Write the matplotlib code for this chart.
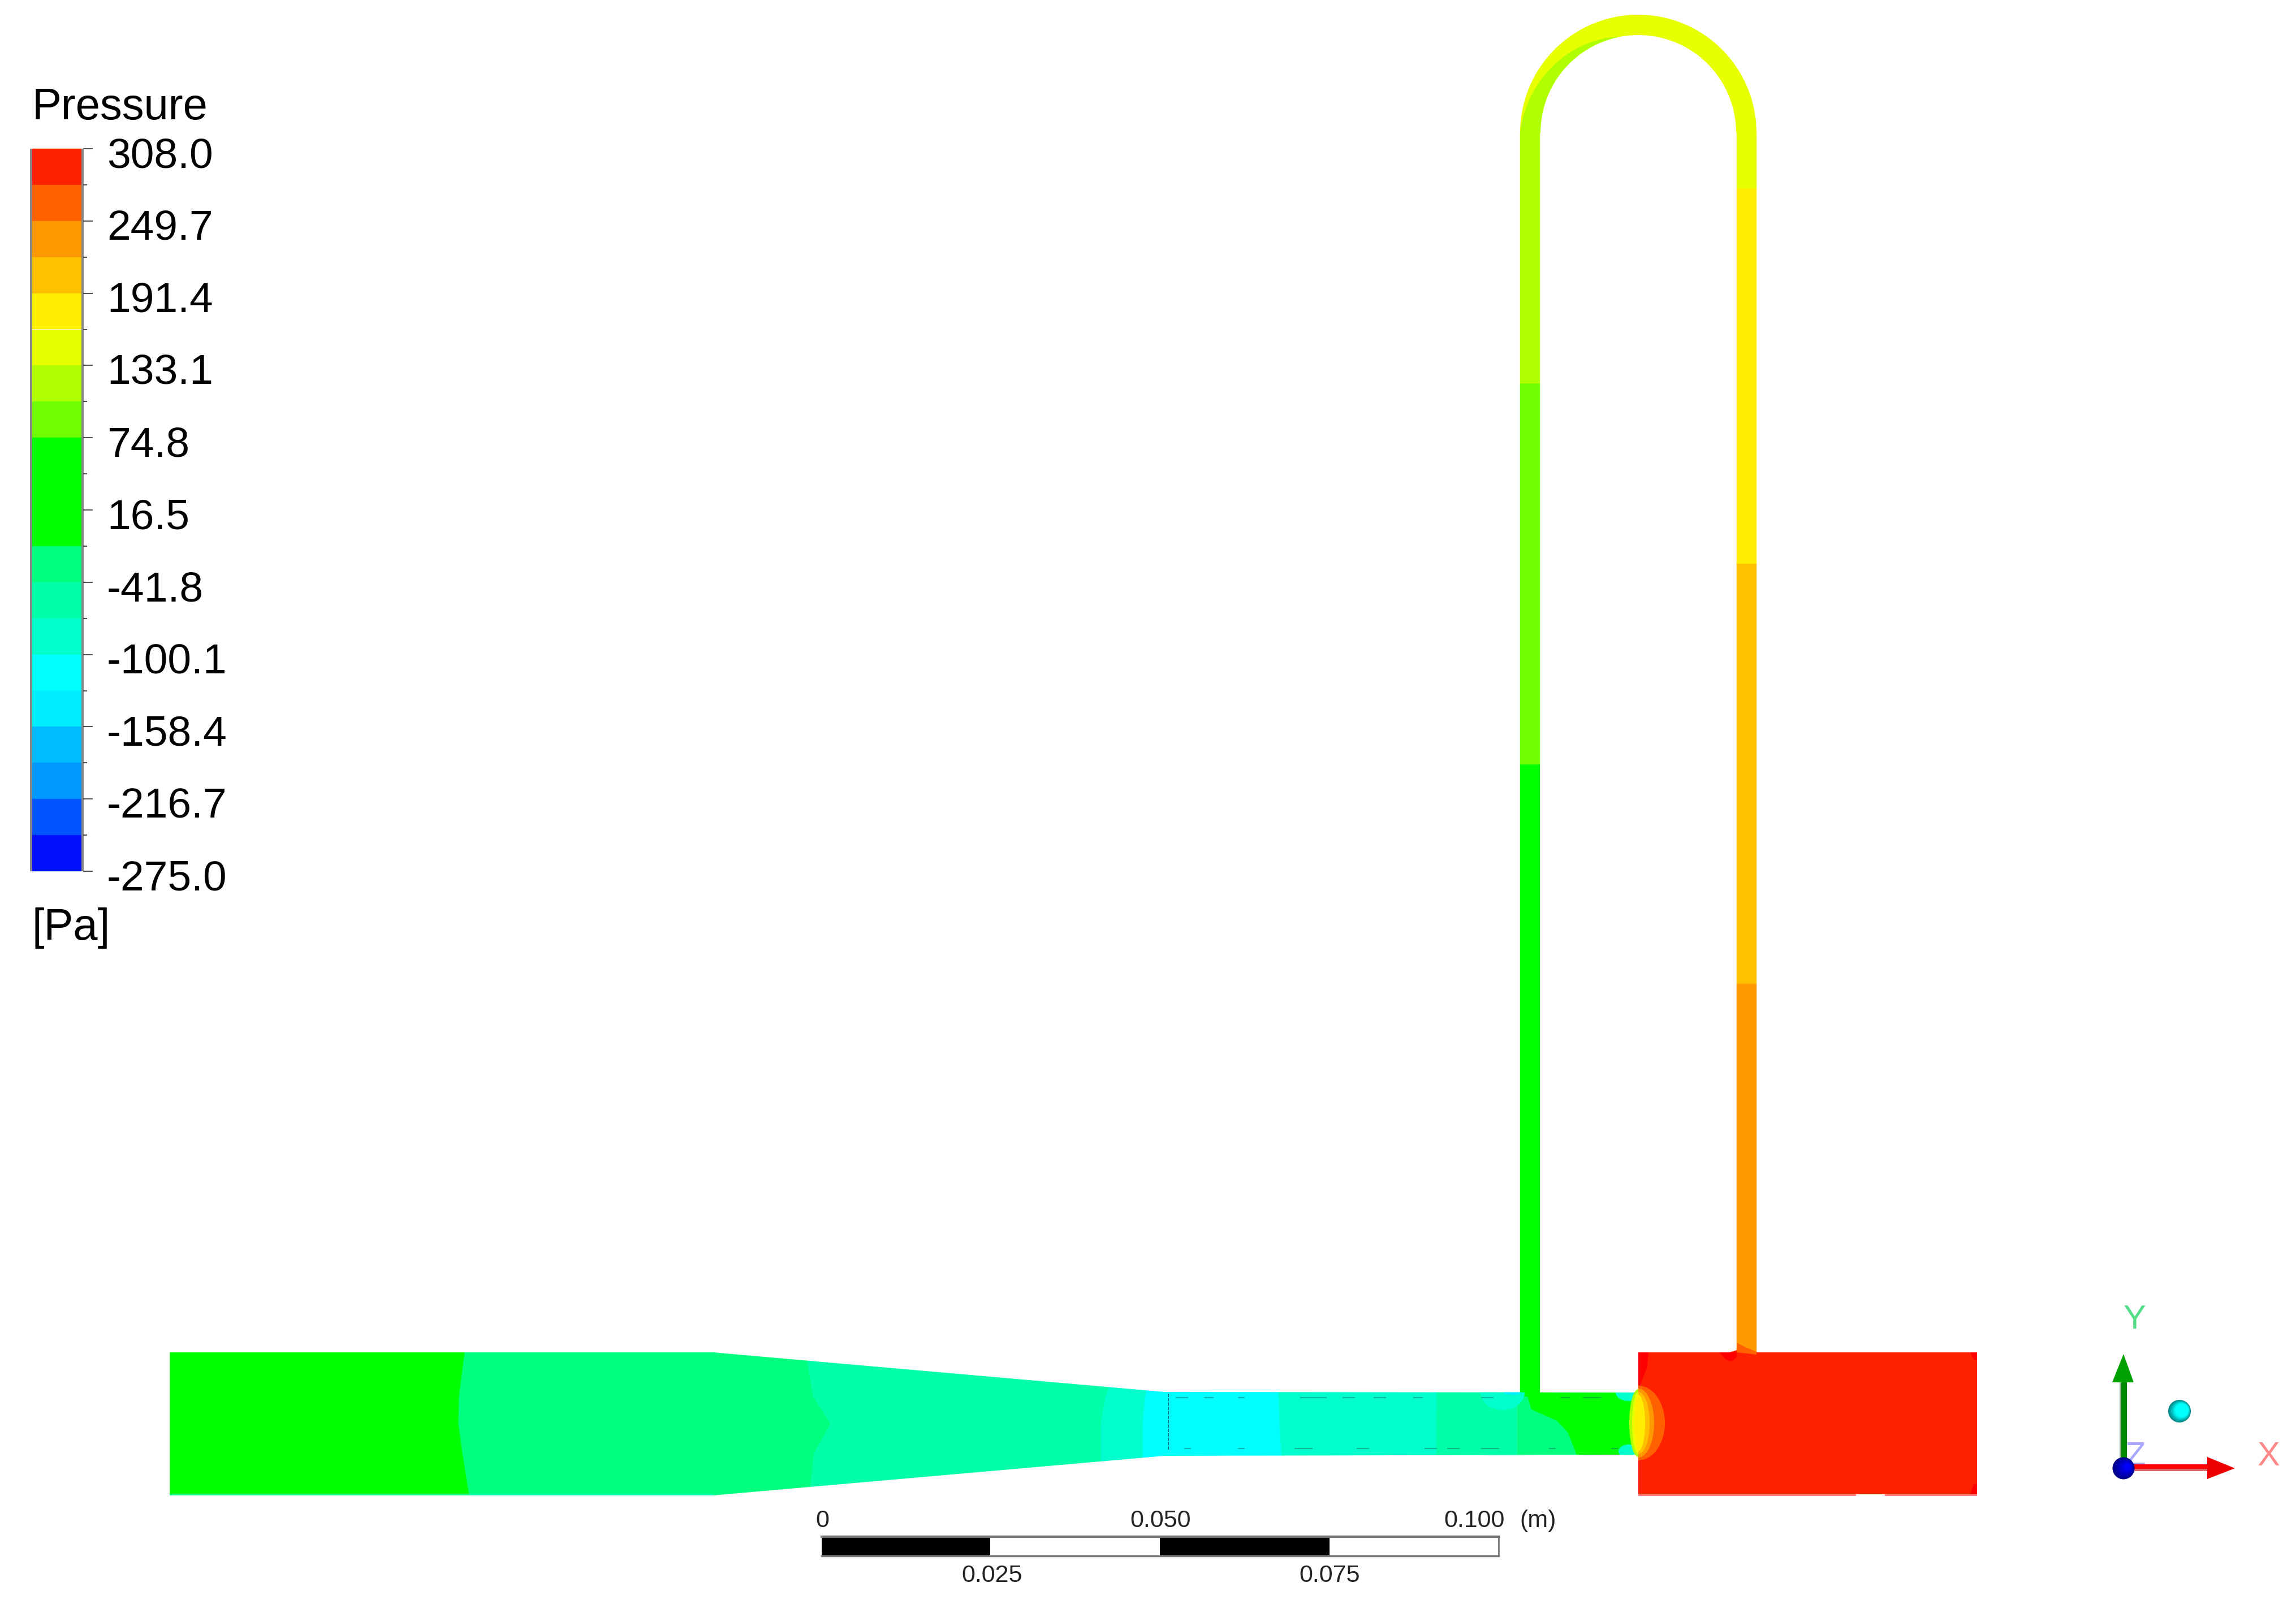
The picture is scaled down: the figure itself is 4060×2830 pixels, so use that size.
import numpy as np
import matplotlib
matplotlib.use("Agg")
import matplotlib.pyplot as plt
from matplotlib.patches import Polygon, Circle, Rectangle, Ellipse, Wedge
from matplotlib.colors import LinearSegmentedColormap

plt.rcParams['font.family'] = ['Liberation Sans', 'DejaVu Sans']

# ---------- legend data ----------
legend_title = "Pressure"
legend_unit = "[Pa]"
legend_labels = ["308.0", "249.7", "191.4", "133.1", "74.8", "16.5",
                 "-41.8", "-100.1", "-158.4", "-216.7", "-275.0"]
band_colors = ["#ff2000", "#ff6000", "#ff9900", "#ffc000", "#ffee00", "#e8ff00",
               "#b0ff00", "#70ff00", "#00ff00", "#00ff00", "#00ff00", "#00ff7f",
               "#00ffa8", "#00ffcc", "#00ffff", "#00eeff", "#00bbff", "#0099ff",
               "#0055ff", "#0010ff"]
C = dict(zip(["r1", "r2", "o1", "o2", "y1", "y2", "l1", "l2", "g", "g2", "g3", "m1",
              "m2", "m3", "c1", "c2", "b1", "b2", "b3", "b4"], band_colors))

# ---------- geometry in picture pixels ----------
duct_x = [300, 1261, 2059, 2897, 2897, 2059, 1261, 300]
duct_y = [2392, 2392, 2462, 2463, 2573, 2575, 2645, 2645]

# contour bands along the duct, left boundary of each: (x, y) list
bound_y = [2392, 2470, 2518, 2570, 2645]
section_bounds = [
    [300, 300, 300, 300, 300],
    [822, 812, 811, 818, 830],
    [1425, 1438, 1469, 1440, 1431],
    [1987, 1955, 1947, 1947, 1947],
    [2045, 2025, 2021, 2021, 2021],
    [2260, 2261, 2263, 2266, 2268],
    [2541, 2541, 2540, 2540, 2540],
    [2683, 2683, 2683, 2683, 2683],
    [2897, 2897, 2897, 2897, 2897],
]
section_colors = [C["g"], C["m1"], C["m2"], C["m3"], C["c1"], C["m3"], C["m2"], C["m1"]]

green_x = [2699, 2708, 2753, 2772, 2788, 2897, 2897]
green_y = [2463, 2493, 2513, 2533, 2573, 2573, 2463]

pipe_left_x = (2688, 2723)
pipe_right_x = (3071, 3106)
pipe_left_stops = [2470, 1352, 678, 235]
pipe_left_cols = [C["g"], C["l2"], C["l1"]]
pipe_right_stops = [2392, 1740, 997, 333, 235]
pipe_right_cols = [C["o1"], C["o2"], C["y1"], C["y2"]]
arc_center = (2897, 235)
arc_r = (173, 209)

chamber = (2897, 2392, 3496, 2643)

# lens at the throat exit: half-width right, half-width left, half-height
lens_cy = 2517
lens_x0 = 2897
lens_right = [(47, "r2", 66), (28, "o1", 61), (20, "o2", 55), (12, "y1", 50)]
lens_left = [(16, "l1", 60), (11, "y2", 55), (7, "y1", 50)]

# scale bar
scale_edges = [1453, 1751, 2051, 2351, 2650]
scale_fill = ["black", "white", "black", "white"]
scale_top = ["0", "0.050", "0.100"]
scale_top_x = [1454, 2052, 2607]
scale_bot = ["0.025", "0.075"]
scale_bot_x = [1754, 2351]

# dark mesh specks in the throat
specks_top = [(2080, 2100), (2130, 2145), (2190, 2200), (2300, 2345), (2375, 2395),
              (2430, 2450), (2500, 2515), (2620, 2640), (2760, 2775), (2800, 2830)]
specks_bot = [(2095, 2105), (2190, 2200), (2290, 2320), (2400, 2420), (2520, 2540),
              (2560, 2580), (2620, 2650), (2740, 2750), (2850, 2860)]

fig = plt.figure(figsize=(40.6, 28.3), dpi=100, facecolor="white")
ax = fig.add_axes([0, 0, 1, 1])
ax.set_xlim(0, 4060)
ax.set_ylim(2830, 0)
ax.axis("off")

# ---------- duct ----------
duct = Polygon(np.column_stack([duct_x, duct_y]), closed=True, fc="none", ec="none")
ax.add_patch(duct)
by = np.array(bound_y)
for i, col in enumerate(section_colors):
    left = np.array(section_bounds[i])
    right = np.array(section_bounds[i + 1])
    pts = np.vstack([np.column_stack([left, by]), np.column_stack([right, by])[::-1]])
    p = Polygon(pts, closed=True, fc=col, ec=col, lw=0.5, zorder=2)
    ax.add_patch(p)
    p.set_clip_path(duct)

for (cx, cy, w, h, col) in [(2657, 2463, 78, 62, C["m3"]), (2675, 2463, 30, 8, C["c2"]),
                            (2880, 2567, 36, 24, C["m3"]), (2880, 2463, 46, 30, C["m3"])]:
    e = Ellipse((cx, cy), w, h, fc=col, ec="none", zorder=5)
    ax.add_patch(e)
    e.set_clip_path(duct)

# teal line under first section of the duct
ax.add_patch(Rectangle((300, 2642), 961, 3, fc=C["m1"], ec="none", zorder=3))
ax.add_patch(Rectangle((830, 2642), 431, 3, fc=C["m2"], ec="none", zorder=3))

ax.add_patch(Polygon(np.column_stack([green_x, green_y]), closed=True, fc=C["g"], ec="none", zorder=4))

# mesh specks
ax.plot([2066, 2066], [2465, 2565], color="#007777", lw=1.4, ls=(0, (3, 1)), zorder=5)
for y, row in [(2472, specks_top), (2562, specks_bot)]:
    for a, b in row:
        ax.plot([a, b], [y, y], color="#117766", lw=1.5, alpha=.5, zorder=5)

# ---------- pipes ----------
for (x0, x1), stops, cols in [(pipe_left_x, pipe_left_stops, pipe_left_cols),
                              (pipe_right_x, pipe_right_stops, pipe_right_cols)]:
    for i, col in enumerate(cols):
        ax.add_patch(Rectangle((x0, stops[i + 1]), x1 - x0, stops[i] - stops[i + 1],
                               fc=col, ec=col, lw=0.3, zorder=4))

ax.add_patch(Wedge(arc_center, arc_r[1], 180, 360, width=arc_r[1] - arc_r[0],
                   fc=C["y2"], ec="none", zorder=4))
# darker crescent on the inner side of the left bend
th = np.deg2rad(np.linspace(180, 258, 40))
inner = np.column_stack([arc_center[0] + arc_r[0] * np.cos(th), arc_center[1] + arc_r[0] * np.sin(th)])
th2 = np.deg2rad(np.linspace(258, 180, 40))
rad2 = np.linspace(arc_r[0] + 1, arc_r[1], 40)
outer = np.column_stack([arc_center[0] + rad2 * np.cos(th2), arc_center[1] + rad2 * np.sin(th2)])
ax.add_patch(Polygon(np.vstack([inner, outer]), closed=True, fc=C["l1"], ec="none", zorder=5))

# ---------- chamber ----------
cx0, cy0, cx1, cy1 = chamber
ax.add_patch(Rectangle((cx0, cy0), cx1 - cx0, cy1 - cy0, fc=C["r1"], ec="none", zorder=6))
ax.add_patch(Rectangle((cx0, cy1), 385, 2.5, fc="#ff8080", ec="none", zorder=6))
ax.add_patch(Rectangle((3333, cy1), cx1 - 3333, 2.5, fc="#ff8080", ec="none", zorder=6))
ax.add_patch(Polygon([[2897, 2392], [2915, 2392], [2912, 2420], [2900, 2450], [2897, 2450]],
                     closed=True, fc="#ff0000", ec="none", zorder=6))
ax.add_patch(Polygon([[3040, 2392], [3071, 2392], [3071, 2400], [3062, 2408], [3052, 2405]],
                     closed=True, fc="#ff0000", ec="none", zorder=6))
ax.add_patch(Polygon([[3058, 2392], [3071, 2388], [3071, 2392]], closed=True, fc="#ff2000", ec="none", zorder=6))
ax.add_patch(Polygon([[3071, 2375], [3085, 2382], [3106, 2391], [3106, 2396], [3090, 2394], [3071, 2392]],
                     closed=True, fc=C["r2"], ec="none", zorder=6))
ax.add_patch(Polygon([[3496, 2392], [3484, 2392], [3490, 2405], [3496, 2405]], closed=True, fc="#ff0000", ec="none", zorder=6))
ax.add_patch(Polygon([[3496, 2643], [3484, 2643], [3490, 2625], [3496, 2625]], closed=True, fc="#ff0000", ec="none", zorder=6))

# lens
t = np.deg2rad(np.linspace(-90, 90, 60))
for w, key, h in lens_right:
    ax.add_patch(Polygon(np.column_stack([lens_x0 + w * np.cos(t), lens_cy + h * np.sin(t)]),
                         closed=True, fc=C[key], ec="none", zorder=7))
for w, key, h in lens_left:
    ax.add_patch(Polygon(np.column_stack([lens_x0 - w * np.cos(t), lens_cy + h * np.sin(t)]),
                         closed=True, fc=C[key], ec="none", zorder=7))

# ---------- legend ----------
bar_x0, bar_x1, bar_top, bar_bot = 57, 144, 263, 1541
edges = np.linspace(bar_top, bar_bot, len(band_colors) + 1)
for i, col in enumerate(band_colors):
    ax.add_patch(Rectangle((bar_x0, edges[i]), bar_x1 - bar_x0, edges[i + 1] - edges[i],
                           fc=col, ec=col, lw=0.2, zorder=3))
ax.add_patch(Rectangle((53, bar_top), 4, bar_bot - bar_top, fc="#888888", ec="none", zorder=3))
ax.add_patch(Rectangle((bar_x1, bar_top), 4, bar_bot - bar_top, fc="#888888", ec="none", zorder=3))
for i, y in enumerate(edges):
    ax.plot([bar_x1 + 4, 163 if i % 2 == 0 else 153], [y, y], color="#555555", lw=1.5, zorder=3)
for i, lab in enumerate(legend_labels):
    ax.text(189, edges[2 * i] + 14, lab, fontsize=54, va="center", ha="left", color="black")
ax.text(57, 191, legend_title, fontsize=56, va="center", ha="left", color="black")
ax.text(57, 1642, legend_unit, fontsize=56, va="center", ha="left", color="black")

# ---------- scale bar ----------
for i, col in enumerate(scale_fill):
    ax.add_patch(Rectangle((scale_edges[i], 2719), scale_edges[i + 1] - scale_edges[i], 32,
                           fc=col, ec="none", zorder=3))
ax.plot([scale_edges[0], scale_edges[-1]], [2718, 2718], color="#777777", lw=3, zorder=4)
ax.plot([scale_edges[0], scale_edges[-1]], [2752, 2752], color="#777777", lw=2.5, zorder=4)
ax.plot([scale_edges[-1], scale_edges[-1]], [2718, 2752], color="#777777", lw=2, zorder=4)
for x, lab in zip(scale_top_x, scale_top):
    ax.text(x, 2690, lab, fontsize=31, ha="center", va="center", color="#222222")
ax.text(2720, 2690, "(m)", fontsize=31, ha="center", va="center", color="#222222")
for x, lab in zip(scale_bot_x, scale_bot):
    ax.text(x, 2787, lab, fontsize=31, ha="center", va="center", color="#222222")

# ---------- triad ----------
ax.text(3775, 2576, "Z", fontsize=43, ha="center", va="center", color="#a8a8ff", zorder=2)
ax.add_patch(Rectangle((3748, 2440), 13, 157, fc="#008a00", ec="none", zorder=3))
ax.add_patch(Rectangle((3748, 2440), 3, 157, fc="#99bb99", ec="none", zorder=3))
ax.add_patch(Polygon([[3755, 2395], [3773, 2445], [3735, 2445]], closed=True, fc="#00a000", ec="none", zorder=3))
ax.add_patch(Rectangle((3760, 2590), 145, 8, fc="#ff0000", ec="none", zorder=3))
ax.add_patch(Rectangle((3760, 2598), 145, 4, fc="#dd6666", ec="none", zorder=3))
ax.add_patch(Polygon([[3903, 2577], [3952, 2597], [3903, 2616]], closed=True, fc="#ee0000", ec="none", zorder=3))
blue_map = LinearSegmentedColormap.from_list("b", ["#000088", "#0000ff"])
cyan_map = LinearSegmentedColormap.from_list("c", ["#008888", "#00ffff", "#00ffff"])
for f, col in zip(np.linspace(1, 0.25, 10), blue_map(np.linspace(0, 1, 10))):
    ax.add_patch(Circle((3755 + (1 - f) * 10, 2597 - (1 - f) * 4), 19.5 * f, fc=col, ec="none", zorder=4))
for f, col in zip(np.linspace(1, 0.25, 10), cyan_map(np.linspace(0, 1, 10))):
    ax.add_patch(Circle((3854 + (1 - f) * 10, 2496 - (1 - f) * 4), 20 * f, fc=col, ec="none", zorder=4))
ax.text(3775, 2335, "Y", fontsize=43, ha="center", va="center", color="#55dd88")
ax.text(4012, 2576, "X", fontsize=43, ha="center", va="center", color="#ff8888")

fig.savefig("out.png", dpi=100, facecolor="white")
